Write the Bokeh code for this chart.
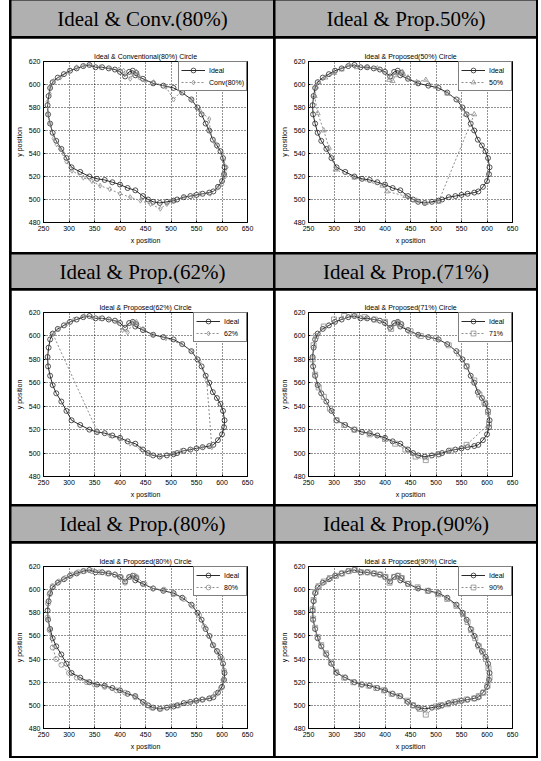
from bokeh.plotting import figure
from bokeh.layouts import column, row
from bokeh.models import Label, Legend, LegendItem, FixedTicker, Spacer
from bokeh.embed import file_html
from bokeh.resources import INLINE

headers = ["Ideal & Conv.(80%)", "Ideal & Prop.50%)", "Ideal & Prop.(62%)",
           "Ideal & Prop.(71%)", "Ideal & Prop.(80%)", "Ideal & Prop.(90%)"]
titles = ["Ideal & Conventional(80%) Circle", "Ideal & Proposed(50%) Circle",
          "Ideal & Proposed(62%) Circle", "Ideal & Proposed(71%) Circle",
          "Ideal & Proposed(80%) Circle", "Ideal & Proposed(90%) Circle"]
legend_labels = ["Conv(80%)", "50%", "62%", "71%", "80%", "90%"]
markers = ["diamond", "triangle", "diamond", "square", "circle", "square"]
x_ticks = [250, 300, 350, 400, 450, 500, 550, 600, 650]
y_ticks = [480, 500, 520, 540, 560, 580, 600, 620]

ideal_x = [430, 445, 465, 485, 505, 522, 540, 552, 560, 568, 575, 582, 590, 597, 602, 605, 604, 600, 592, 583,
           575, 562, 550, 538, 525, 512, 505, 492, 478, 465, 455, 445, 430, 415, 400, 385, 370, 355, 340, 322,
           305, 295, 285, 275, 268, 263, 259, 258, 260, 263, 268, 278, 290, 302, 315, 328, 340, 352, 365, 378,
           390, 400, 410, 418, 425, 432]
ideal_y = [608, 605, 601, 599, 597, 593, 587, 580, 574, 566, 560, 552, 547, 542, 536, 528, 522, 516, 511, 507,
           506, 505, 504, 503, 502, 500, 499, 498, 497, 498, 500, 503, 508, 510, 513, 515, 517, 518, 520, 524,
           528, 536, 544, 551, 558, 566, 574, 582, 590, 597, 602, 606, 609, 612, 614, 616, 617, 615, 615, 614,
           613, 611, 607, 611, 612, 610]

conv80_x = [438, 450, 466, 490, 505, 520, 541, 557, 575, 577, 585, 590, 600, 603, 609, 606, 600, 590, 577, 557,
            544, 524, 505, 492, 479, 460, 440, 420, 400, 380, 361, 345, 328, 306, 295, 289, 283, 276, 270, 263,
            258, 258, 262, 264, 270, 283, 299, 315, 330, 341, 361, 381, 398, 407, 420, 426, 432, 436]
conv80_y = [606, 603, 602, 598, 587, 594, 586, 577, 570, 559, 550, 546, 540, 534, 528, 520, 513, 510, 505, 505,
            503, 502, 499, 496, 492, 496, 499, 502, 505, 509, 512, 516, 519, 525, 533, 540, 544, 548, 553, 566,
            574, 585, 592, 597, 603, 606, 611, 615, 616, 617, 615, 614, 613, 612, 605, 609, 611, 608]

p50_x = [436, 445, 462, 480, 500, 522, 545, 558, 575, 505, 480, 462, 440, 404, 395, 340, 303, 290, 280, 268,
         262, 265, 270, 283, 300, 315, 330, 345, 365, 385, 400, 408, 415, 420, 428, 434]
p50_y = [609, 606, 602, 604, 598, 592, 586, 574, 574, 498, 497, 499, 503, 507, 512, 519, 526, 545, 560, 575,
         590, 598, 602, 606, 610, 613, 617, 615, 615, 614, 612, 604, 603, 608, 610, 611]

p62_x = [432, 445, 465, 490, 520, 540, 556, 570, 580, 560, 540, 520, 505, 480, 458, 440, 420, 400, 380, 355,
         268, 280, 295, 310, 330, 345, 360, 380, 395, 405, 415, 425, 432]
p62_y = [610, 606, 601, 598, 593, 587, 578, 562, 505, 505, 503, 502, 499, 497, 499, 504, 508, 512, 515, 519,
         602, 606, 610, 614, 617, 616, 615, 614, 612, 605, 603, 611, 612]

p71_x = [430, 450, 470, 500, 525, 545, 560, 575, 585, 595, 602, 604, 560, 530, 505, 480, 460, 440, 420, 400,
         370, 340, 320, 305, 292, 280, 270, 263, 258, 260, 265, 280, 300, 320, 340, 360, 380, 400, 412, 425]
p71_y = [610, 604, 600, 598, 592, 585, 574, 562, 550, 543, 535, 525, 507, 502, 499, 494, 497, 503, 508, 512,
         516, 520, 524, 528, 538, 548, 556, 567, 580, 592, 600, 608, 614, 617, 618, 616, 614, 612, 606, 611]

p80_x = [432, 448, 465, 486, 505, 525, 542, 555, 565, 576, 583, 592, 600, 604, 603, 598, 588, 577, 560, 548,
         533, 515, 500, 480, 462, 448, 430, 410, 393, 370, 350, 335, 315, 300, 285, 275, 268, 262, 258, 259,
         262, 268, 280, 293, 305, 318, 330, 345, 360, 375, 390, 402, 410, 420, 428]
p80_y = [611, 605, 601, 600, 596, 592, 586, 578, 568, 560, 552, 546, 540, 530, 522, 515, 510, 506, 505, 504,
         502, 500, 499, 497, 498, 502, 507, 511, 513, 516, 518, 520, 524, 528, 535, 540, 550, 565, 576, 588,
         596, 603, 607, 610, 613, 615, 616, 616, 615, 614, 613, 611, 606, 611, 612]

p90_x = [433, 446, 464, 484, 504, 522, 540, 553, 562, 569, 577, 584, 592, 598, 603, 605, 601, 593, 584, 575,
         560, 548, 536, 523, 510, 500, 480, 468, 455, 443, 428, 413, 398, 383, 368, 353, 338, 320, 304, 294,
         284, 275, 268, 263, 259, 258, 260, 264, 270, 280, 292, 304, 316, 329, 341, 353, 366, 379, 391, 401,
         409, 418, 426]
p90_y = [610, 605, 602, 599, 596, 592, 586, 579, 572, 565, 558, 551, 546, 540, 532, 524, 517, 511, 508, 506,
         505, 504, 503, 501, 500, 499, 492, 497, 500, 504, 508, 510, 513, 515, 517, 518, 520, 524, 529, 537,
         545, 552, 559, 567, 575, 583, 591, 598, 603, 607, 610, 612, 614, 616, 617, 615, 615, 614, 613, 611,
         606, 611, 612]

comp_x = [conv80_x, p50_x, p62_x, p71_x, p80_x, p90_x]
comp_y = [conv80_y, p50_y, p62_y, p71_y, p80_y, p90_y]

SANS = "Liberation Sans"
SERIF = "Liberation Serif"
DARK = "#2a2a2a"
LIGHT = "#8c8c8c"
HEAD_BG = "#b0b0b0"

col_w = [262, 261]
head_h = [36, 34, 35]
plot_h = [214, 214, 213]
top_b = [23, 22, 23]
frame_h = [161, 164, 162]
left_b = [32, 33]
frame_w = 204


def header(text, w, h):
    p = figure(width=w, height=h, x_range=(0, 1), y_range=(0, 1), output_backend="svg",
               toolbar_location=None, x_axis_location=None, y_axis_location=None, min_border=0)
    p.grid.visible = False
    p.outline_line_color = None
    p.background_fill_color = HEAD_BG
    p.border_fill_color = HEAD_BG
    p.add_layout(Label(x=0.5, y=0.5, text=text, text_align="center", text_baseline="middle",
                       text_font=SERIF, text_font_size="21px", text_color="black"))
    return p


def panel(i, w, h, lb, tb, fh):
    p = figure(width=w, height=h, x_range=(250, 650), y_range=(480, 620), output_backend="svg",
               toolbar_location=None, title=titles[i],
               min_border_left=lb, min_border_right=w - lb - frame_w,
               min_border_top=tb, min_border_bottom=h - tb - fh)
    p.title.align = "center"
    p.title.text_font = SANS
    p.title.text_font_size = "7px"
    p.title.text_font_style = "normal"
    p.title.text_color = "black"
    p.title.standoff = 4
    p.background_fill_color = "white"
    p.border_fill_color = "white"
    p.outline_line_color = "black"
    p.outline_line_width = 1
    p.xaxis.ticker = FixedTicker(ticks=x_ticks)
    p.yaxis.ticker = FixedTicker(ticks=y_ticks)
    for ax in (p.xaxis[0], p.yaxis[0]):
        ax.major_label_text_font = SANS
        ax.major_label_text_font_size = "7px"
        ax.major_label_text_color = "black"
        ax.axis_label_text_font = SANS
        ax.axis_label_text_font_size = "7px"
        ax.axis_label_text_font_style = "normal"
        ax.axis_label_text_color = "black"
        ax.major_tick_in = 2
        ax.major_tick_out = 0
        ax.minor_tick_in = 0
        ax.minor_tick_out = 0
        ax.axis_line_color = "black"
        ax.major_label_standoff = 3
        ax.axis_label_standoff = 3
    p.xaxis.axis_label = "x position"
    p.yaxis.axis_label = "y position"
    p.grid.grid_line_color = "black"
    p.grid.grid_line_dash = "1 2"
    p.grid.grid_line_alpha = 0.85

    li = p.line(ideal_x, ideal_y, line_color=DARK, line_width=1)
    si = p.scatter(ideal_x, ideal_y, marker="circle", size=5, fill_color=None, line_color=DARK, line_width=0.8)
    lc = p.line(comp_x[i], comp_y[i], line_color=LIGHT, line_width=1, line_dash="2 2")
    sc = p.scatter(comp_x[i], comp_y[i], marker=markers[i], size=5, fill_color=None, line_color=LIGHT,
                   line_width=0.8)
    leg = Legend(items=[LegendItem(label="Ideal", renderers=[li, si]),
                        LegendItem(label=legend_labels[i], renderers=[lc, sc])],
                 location="top_right", margin=0, padding=2, spacing=0,
                 label_text_font=SANS, label_text_font_size="7px", label_text_color="black",
                 label_height=12, glyph_width=24, glyph_height=12, label_standoff=4,
                 border_line_color="black", border_line_width=1, background_fill_alpha=1)
    p.add_layout(leg)
    return p


def hrow(children):
    return row([Spacer(width=0, height=0)] + children + [Spacer(width=0, height=0)], spacing=2)


rows = []
for r in range(3):
    rows.append(hrow([header(headers[2 * r], col_w[0], head_h[r]),
                      header(headers[2 * r + 1], col_w[1], head_h[r])]))
    rows.append(hrow([panel(2 * r, col_w[0], plot_h[r], left_b[0], top_b[r], frame_h[r]),
                      panel(2 * r + 1, col_w[1], plot_h[r], left_b[1], top_b[r], frame_h[r])]))
rows.append(Spacer(width=0, height=0))
grid = column(rows, spacing=2, styles={"background-color": "black"})
layout = row([Spacer(width=9, height=0), grid], spacing=0)

open("out.html", "w").write(file_html(layout, INLINE))
